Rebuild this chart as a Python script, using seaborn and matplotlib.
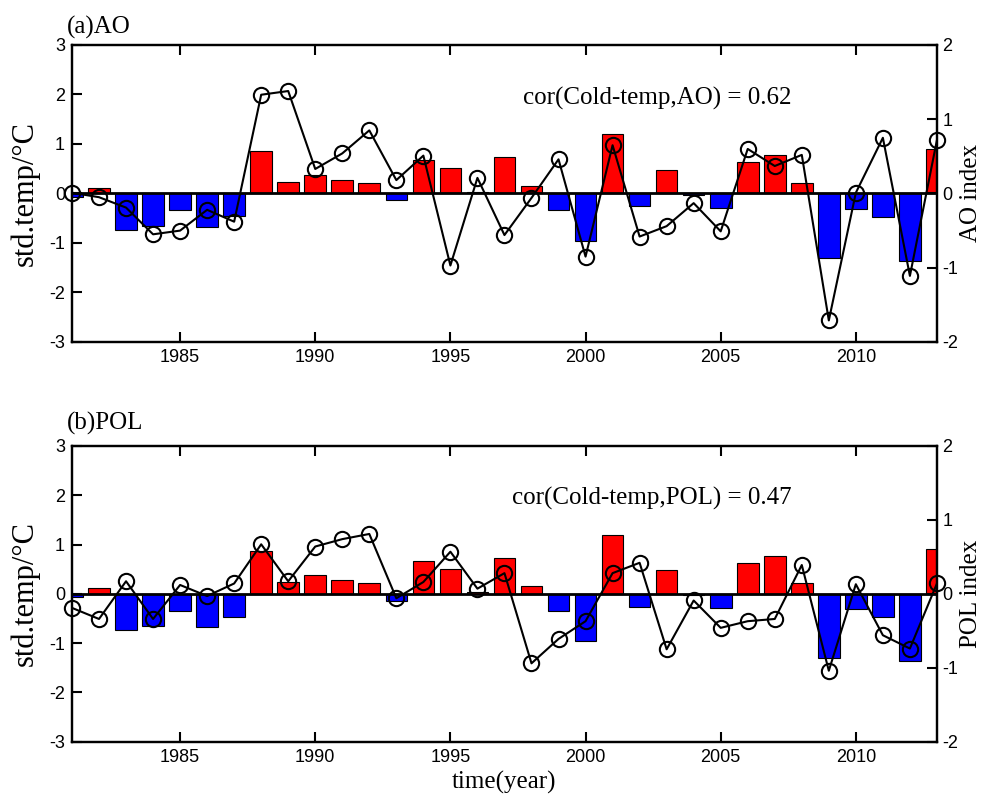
import matplotlib
matplotlib.use('Agg')
import matplotlib.pyplot as plt
import seaborn as sns
import numpy as np
import pandas as pd

# ---------------- data ----------------
years = list(range(1981, 2014))
std_temp = [-0.07, 0.12, -0.73, -0.65, -0.34, -0.67, -0.46, 0.86, 0.24, 0.38,
            0.28, 0.22, -0.14, 0.67, 0.51, 0.04, 0.73, 0.15, -0.34, -0.96,
            1.20, -0.26, 0.48, -0.03, -0.29, 0.63, 0.77, 0.22, -1.31, -0.31,
            -0.48, -1.36, 0.90]
ao_index = [0.01, -0.05, -0.19, -0.55, -0.50, -0.22, -0.38, 1.33, 1.38, 0.33,
            0.54, 0.85, 0.18, 0.51, -0.97, 0.21, -0.56, -0.06, 0.46, -0.85,
            0.65, -0.58, -0.44, -0.13, -0.51, 0.60, 0.37, 0.52, -1.71, 0.01,
            0.75, -1.11, 0.72]
pol_index = [-0.19, -0.34, 0.17, -0.34, 0.12, -0.03, 0.14, 0.67, 0.17, 0.64,
             0.74, 0.81, -0.06, 0.16, 0.57, 0.07, 0.28, -0.94, -0.61, -0.37,
             0.28, 0.42, -0.75, -0.09, -0.46, -0.37, -0.34, 0.39, -1.04, 0.13,
             -0.56, -0.74, 0.14]
panel_titles = ['(a)AO', '(b)POL']
index_labels = ['AO index', 'POL index']
cor_texts = ['cor(Cold-temp,AO) = 0.62', 'cor(Cold-temp,POL) = 0.47']
left_ticks = [-3, -2, -1, 0, 1, 2, 3]
right_ticks = [-2, -1, 0, 1, 2]
x_ticks = [1985, 1990, 1995, 2000, 2005, 2010]

# ---------------- style ----------------
sns.set_theme(style='ticks')
plt.rcParams['font.family'] = ['Liberation Sans', 'DejaVu Sans']
SERIF = ['Liberation Serif', 'DejaVu Serif']

fig = plt.figure(figsize=(9.9, 8.02), dpi=100)
ax_top = fig.add_axes([0.0727, 0.5736, 0.8737, 0.3703])
ax_bot = fig.add_axes([0.0727, 0.0752, 0.8737, 0.3687])

df = pd.DataFrame({'year': years, 'temp': std_temp})
df['sign'] = np.where(df['temp'] >= 0, 'pos', 'neg')
palette = {'pos': '#ff0000', 'neg': '#0000ff'}

panels = [
    (ax_top, ao_index, 0, 1.040, (0.677, 0.8215)),
    (ax_bot, pol_index, 1, 1.056, (0.6705, 0.824)),
]

for ax, idx, i, title_y, cor_pos in panels:
    sns.barplot(data=df, x='year', y='temp', hue='sign', palette=palette,
                native_scale=True, dodge=False, width=0.8, errorbar=None,
                saturation=1, edgecolor='black', linewidth=0.8, legend=False,
                ax=ax, zorder=2)
    ax.axhline(0, color='black', lw=2.0, zorder=3)
    ax.set_xlim(1981, 2013)
    ax.set_ylim(-3, 3)
    ax.set_yticks(left_ticks)
    ax.set_yticklabels([str(t) for t in left_ticks])
    ax.set_xticks(x_ticks)
    ax.set_xticklabels([str(t) for t in x_ticks])
    ax.tick_params(axis='both', direction='in', length=7, width=1.5,
                   labelsize=13, colors='black', pad=5)
    ax.tick_params(axis='x', top=True)
    ax.tick_params(axis='y', right=True, labelright=False)
    for s in ax.spines.values():
        s.set_color('black')
        s.set_linewidth(1.6)
    ax.set_ylabel('std.temp/°C', fontsize=22, family=SERIF, labelpad=7,
                  color='black')
    if i == 1:
        ax.set_xlabel('time(year)', fontsize=18, family=SERIF, labelpad=4,
                      color='black')
    else:
        ax.set_xlabel('')

    ax2 = ax.twinx()
    sns.lineplot(x=years, y=idx, ax=ax2, color='black', lw=1.5, marker='o',
                 markersize=11, markerfacecolor='none',
                 markeredgecolor='black', markeredgewidth=1.5, clip_on=False,
                 zorder=5)
    ax2.set_ylim(-2, 2)
    ax2.set_yticks(right_ticks)
    ax2.set_yticklabels([str(t) for t in right_ticks])
    ax2.tick_params(axis='y', direction='in', length=7, width=1.5,
                    labelsize=13, colors='black', pad=4)
    for s in ax2.spines.values():
        s.set_color('black')
        s.set_linewidth(1.6)
    ax2.set_ylabel(index_labels[i], fontsize=18, family=SERIF, labelpad=1.5,
                   color='black')
    ax2.set_xlim(1981, 2013)

    ax.text(-0.006, title_y, panel_titles[i], transform=ax.transAxes,
            ha='left', va='baseline', fontsize=18, family=SERIF,
            color='black')
    ax2.text(cor_pos[0], cor_pos[1], cor_texts[i], transform=ax.transAxes,
             ha='center', va='center', fontsize=18, family=SERIF,
             color='black')

fig.savefig('out.png', dpi=100)
